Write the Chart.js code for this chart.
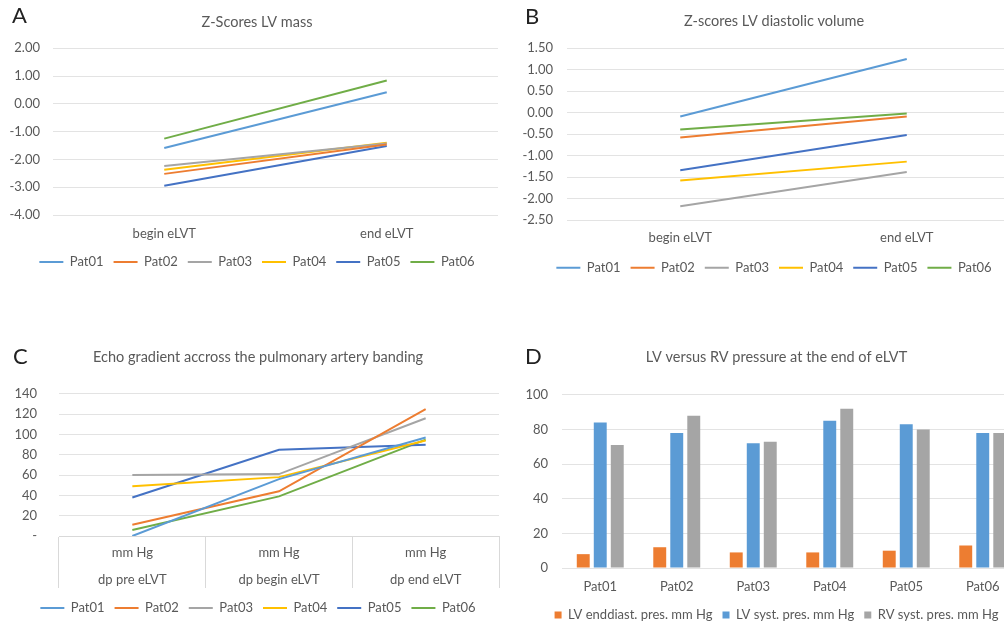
<!DOCTYPE html>
<html>
<head>
<meta charset="utf-8">
<script src="https://cdn.jsdelivr.net/npm/chart.js@4.4.0/dist/chart.umd.min.js"></script>
<style>
  body { margin: 0; width: 1004px; height: 623px; overflow: hidden; background: #fff; position: relative; }
  canvas { position: absolute; }
  .tag { position: absolute; font: 22px Lato, sans-serif; line-height: 22px; color: #222; }
</style>
</head>
<body>
<canvas id="chartA" width="514" height="290" style="left:0;top:0"></canvas>
<canvas id="chartB" width="548" height="300" style="left:500px;top:0"></canvas>
<canvas id="chartC" width="516" height="310" style="left:0;top:330px"></canvas>
<canvas id="chartD" width="553" height="310" style="left:500px;top:330px"></canvas>
<div class="tag" style="left:12px;top:4px">A</div>
<div class="tag" style="left:525px;top:5px">B</div>
<div class="tag" style="left:13px;top:345px">C</div>
<div class="tag" style="left:525px;top:345px">D</div>
<script>
const patients = ['Pat01', 'Pat02', 'Pat03', 'Pat04', 'Pat05', 'Pat06'];
const patColors = ['#5B9BD5', '#ED7D31', '#A5A5A5', '#FFC000', '#4472C4', '#70AD47'];

// A - Z-scores LV mass (begin, end)
const stagesAB = ['begin eLVT', 'end eLVT'];
const lvMass = [[-1.59, 0.42], [-2.52, -1.46], [-2.24, -1.43], [-2.37, -1.40], [-2.95, -1.52], [-1.25, 0.84]];

// B - Z-scores LV diastolic volume
const lvDiastVol = [[-0.09, 1.25], [-0.58, -0.09], [-2.18, -1.38], [-1.58, -1.14], [-1.34, -0.52], [-0.39, -0.02]];

// C - echo gradient (mm Hg)
const stagesC = [['mm Hg', 'dp pre eLVT'], ['mm Hg', 'dp begin eLVT'], ['mm Hg', 'dp end eLVT']];
const gradient = [[0, 56, 97], [11, 44, 125], [60, 61, 116], [49, 58, 94], [38, 85, 90], [6, 39, 95]];

// D - pressures at end of eLVT
const pressLabels = ['LV enddiast. pres. mm Hg', 'LV syst. pres. mm Hg', 'RV syst. pres. mm Hg'];
const lvEndDiast = [8, 12, 9, 9, 10, 13];
const lvSyst = [84, 78, 72, 85, 83, 78];
const rvSyst = [71, 88, 73, 92, 80, 78];
const pressColors = ['#ED7D31', '#5B9BD5', '#A5A5A5'];

const FONT = 'Lato, sans-serif';
const TXT = '#595959';
const GRID = '#e3e3e3';

// centre title and legend on the whole canvas, not on the padded box
const centerShift = {
  id: 'centerShift',
  afterLayout(chart, args, opts) {
    [chart.titleBlock, chart.legend].forEach(b => {
      if (b) { b.left += opts.dx; b.right += opts.dx; }
    });
  }
};

function lineSets(values) {
  return values.map((v, i) => ({
    label: patients[i], data: v, borderColor: patColors[i], backgroundColor: patColors[i],
    borderWidth: 2, pointRadius: 0, tension: 0, fill: false
  }));
}

function commonOpts(o) {
  return {
    responsive: false, animation: false,
    layout: { padding: o.pad },
    plugins: {
      centerShift: { dx: o.pad.right / 2 },
      title: { display: true, text: o.title, color: TXT, font: { family: FONT, size: 14.5, weight: 'normal' }, padding: o.titlePad },
      legend: {
        position: 'bottom',
        labels: o.legendLabels
      },
      tooltip: { enabled: false }
    },
    scales: {
      x: {
        offset: true,
        grid: { display: false, drawTicks: false },
        border: { display: false },
        ticks: { color: TXT, font: { family: FONT, size: 13 }, padding: o.xPad },
        afterFit: s => { s.height = o.xHeight; }
      },
      y: {
        min: o.min, max: o.max,
        grid: { color: GRID, drawTicks: false },
        border: { display: false },
        ticks: { stepSize: o.step, color: TXT, font: { family: FONT, size: 13 }, padding: o.yPad, callback: o.yFmt },
        afterFit: s => { s.width = o.yWidth; }
      }
    }
  };
}

const lineLegend = { usePointStyle: true, pointStyle: 'line', pointStyleWidth: 24, color: TXT, font: { family: FONT, size: 13 }, padding: 10 };

new Chart(document.getElementById('chartA'), {
  type: 'line',
  data: { labels: stagesAB, datasets: lineSets(lvMass) },
  options: commonOpts({
    title: 'Z-Scores LV mass', pad: { left: 0, right: 16, top: 0, bottom: 11.5 },
    titlePad: { top: 13.6, bottom: 17.3 }, legendLabels: lineLegend,
    xPad: 11.2, xHeight: 30.5, min: -4, max: 2, step: 1, yPad: 13, yWidth: 53,
    yFmt: v => v.toFixed(2)
  }),
  plugins: [centerShift]
});

new Chart(document.getElementById('chartB'), {
  type: 'line',
  data: { labels: stagesAB, datasets: lineSets(lvDiastVol) },
  options: commonOpts({
    title: 'Z-scores LV diastolic volume', pad: { left: 0, right: 28, top: 0, bottom: 15.8 },
    titlePad: { top: 12.6, bottom: 18.3 }, legendLabels: lineLegend,
    xPad: 10.5, xHeight: 31.2, min: -2.5, max: 1.5, step: 0.5, yPad: 14, yWidth: 67,
    yFmt: v => v.toFixed(2)
  }),
  plugins: [centerShift]
});

const optsC = commonOpts({
  title: 'Echo gradient accross the pulmonary artery banding', pad: { left: 0, right: 17, top: 0, bottom: 15.5 },
  titlePad: { top: 18.3, bottom: 28.2 }, legendLabels: lineLegend,
  xPad: -48.5, xHeight: 55.5, min: 0, max: 140, step: 20, yPad: 22, yWidth: 59,
  yFmt: v => (v === 0 ? '-' : v)
});
optsC.scales.x.grid = { display: true, offset: true, drawOnChartArea: false, drawTicks: true, tickLength: 52, color: '#d9d9d9' };
optsC.scales.x.border = { display: true, color: '#d9d9d9' };
optsC.scales.x.ticks.font = { family: FONT, size: 13, lineHeight: 27 / 13 };

new Chart(document.getElementById('chartC'), {
  type: 'line',
  data: { labels: stagesC, datasets: lineSets(gradient) },
  options: optsC,
  plugins: [centerShift]
});

const optsD = commonOpts({
  title: 'LV versus RV pressure at the end of eLVT', pad: { left: 0, right: 32, top: 0, bottom: 8.5 },
  titlePad: { top: 19.1, bottom: 28.4 },
  legendLabels: { boxWidth: 7, boxHeight: 7, color: TXT, font: { family: FONT, size: 13 }, padding: 10 },
  xPad: 10.9, xHeight: 30.5, min: 0, max: 100, step: 20, yPad: 14, yWidth: 62,
  yFmt: v => v
});

new Chart(document.getElementById('chartD'), {
  type: 'bar',
  data: {
    labels: patients,
    datasets: [lvEndDiast, lvSyst, rvSyst].map((v, i) => ({
      label: pressLabels[i], data: v, backgroundColor: pressColors[i], borderWidth: 0,
      categoryPercentage: 0.667, barPercentage: 0.76
    }))
  },
  options: optsD,
  plugins: [centerShift]
});
</script>
</body>
</html>
